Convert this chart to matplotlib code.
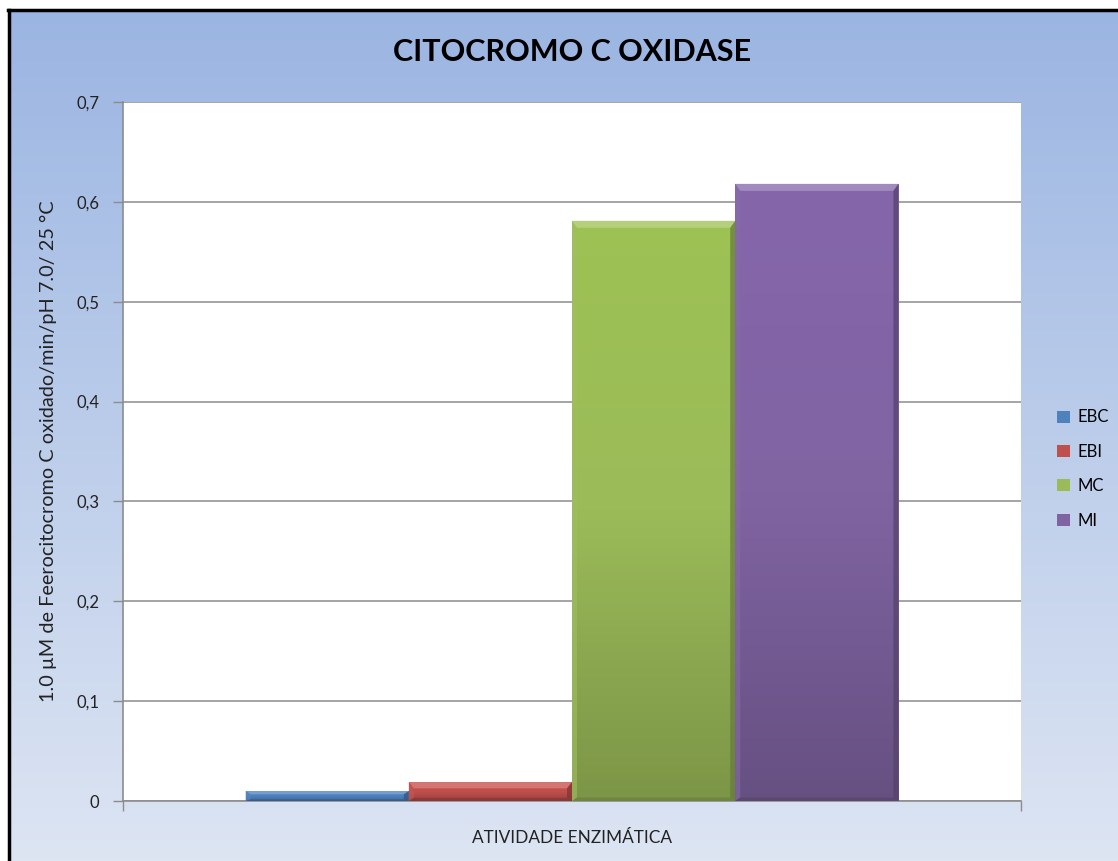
import matplotlib.pyplot as plt
import matplotlib.colors as mcolors
from matplotlib.patches import Polygon
import numpy as np

plt.rcParams['font.family'] = ['Lato', 'DejaVu Sans']

# data
series = ['EBC', 'EBI', 'MC', 'MI']
values = [0.010, 0.019, 0.581, 0.618]
colors = ['#4F81BD', '#C0504D', '#9BBB59', '#8064A2']
category = 'ATIVIDADE ENZIMÁTICA'
yticks = [0, 0.1, 0.2, 0.3, 0.4, 0.5, 0.6, 0.7]
ytick_labels = ['0', '0,1', '0,2', '0,3', '0,4', '0,5', '0,6', '0,7']

W, H = 1118, 861
fig = plt.figure(figsize=(W / 100, H / 100), dpi=100)
fig.patch.set_facecolor('white')

# chart area background: vertical blue gradient
bg = fig.add_axes([10 / W, 0, 1 - 10 / W, 1 - 12 / H])
bg.set_axis_off()
grad = np.linspace(0, 1, 256).reshape(-1, 1)
bg_cmap = mcolors.LinearSegmentedColormap.from_list('bg', ['#9BB5E2', '#DDE5F3'])
bg.imshow(grad, aspect='auto', cmap=bg_cmap, extent=[0, 1, 0, 1], origin='upper')
bg.set_xlim(0, 1)
bg.set_ylim(0, 1)

# outer black frame (top and left edges)
fig.add_artist(plt.Line2D([8 / W, 1], [1 - 10 / H, 1 - 10 / H], color='black', lw=2.5,
                          transform=fig.transFigure))
fig.add_artist(plt.Line2D([9 / W, 9 / W], [0, 1 - 10 / H], color='black', lw=2.5,
                          transform=fig.transFigure))

ax = fig.add_axes([123 / W, 1 - 801 / H, (1021 - 123) / W, (801 - 102) / H])
ax.set_facecolor('white')
ax.set_xlim(-0.5, 0.5)
ax.set_ylim(0, 0.7)

n = len(series)
group = 0.727
bw = group / n
xs = -group / 2 + bw * (np.arange(n) + 0.5)

px_x = 1.0 / 898
px_y = 0.7 / 699


def shade(c, f):
    r, g, b = mcolors.to_rgb(c)
    if f > 0:
        return (r + (1 - r) * f, g + (1 - g) * f, b + (1 - b) * f)
    return (r * (1 + f), g * (1 + f), b * (1 + f))


def saturate(c, f):
    h, s, v = mcolors.rgb_to_hsv(mcolors.to_rgb(c))
    return mcolors.hsv_to_rgb((h, min(1, s * f), v))


for x, v, c, name in zip(xs, values, colors, series):
    x0, x1 = x - bw / 2, x + bw / 2
    bar = ax.bar(x, v, width=bw, color=c, edgecolor='none', zorder=3, label=name)[0]
    cmap = mcolors.LinearSegmentedColormap.from_list(
        name, [shade(c, -0.2), c, shade(saturate(c, 1.25), 0.1)])
    img = ax.imshow(grad[::-1], aspect='auto', cmap=cmap,
                    extent=[x0, x1, 0, v], origin='upper', zorder=3.1)
    img.set_clip_path(bar)
    # bevel edges
    bx, by = 5 * px_x, min(7 * px_y, v / 3)
    top = Polygon([[x0, v], [x1, v], [x1 - bx, v - by], [x0 + bx, v - by]],
                  closed=True, color=shade(saturate(c, 1.2), 0.3), lw=0, zorder=3.2)
    left = Polygon([[x0, v], [x0 + bx, v - by], [x0 + bx, by / 2], [x0, 0]],
                   closed=True, color=shade(c, 0.05), alpha=0.6, lw=0, zorder=3.2)
    right = Polygon([[x1, v], [x1 - bx, v - by], [x1 - bx, by / 2], [x1, 0]],
                    closed=True, color=shade(c, -0.35), alpha=0.7, lw=0, zorder=3.2)
    bottom = Polygon([[x0, 0], [x1, 0], [x1 - bx, by / 2], [x0 + bx, by / 2]],
                     closed=True, color=shade(c, -0.35), alpha=0.6, lw=0, zorder=3.2)
    for p in (top, left, right, bottom):
        ax.add_patch(p)

ax.set_yticks(yticks)
ax.set_yticklabels(ytick_labels, fontsize=12, color='#222222')
ax.yaxis.grid(True, color='#8C8C8C', lw=1.1, zorder=1)
ax.set_axisbelow(True)
ax.tick_params(axis='y', length=7, width=1, color='#8C8C8C', pad=10)
ax.set_xticks([-0.5, 0.5])
ax.set_xticklabels(['', ''])
ax.tick_params(axis='x', length=7, width=1, color='#8C8C8C')
for s in ['top', 'right']:
    ax.spines[s].set_visible(False)
for s in ['left', 'bottom']:
    ax.spines[s].set_color('#8C8C8C')
    ax.spines[s].set_linewidth(1.2)

fig.text(572 / W, 1 - 838 / H, category, ha='center', va='center',
         fontsize=12.4, color='#222222')
fig.text(48 / W, 1 - 451 / H, '1.0 µM de Feerocitocromo C oxidado/min/pH 7.0/ 25 °C',
         rotation=90, ha='center', va='center', fontsize=14.3, color='#222222')
fig.text(572 / W, 1 - 52 / H, 'CITOCROMO C OXIDASE', ha='center', va='center',
         fontsize=22, fontweight='bold', color='black')

leg = fig.legend(loc='center left', bbox_to_anchor=(1042 / W, 1 - 469 / H),
                 frameon=False, fontsize=12, handlelength=0.75, handleheight=0.75,
                 handletextpad=0.5, labelspacing=1.1)

fig.savefig('out.png', dpi=100, facecolor=fig.get_facecolor())
